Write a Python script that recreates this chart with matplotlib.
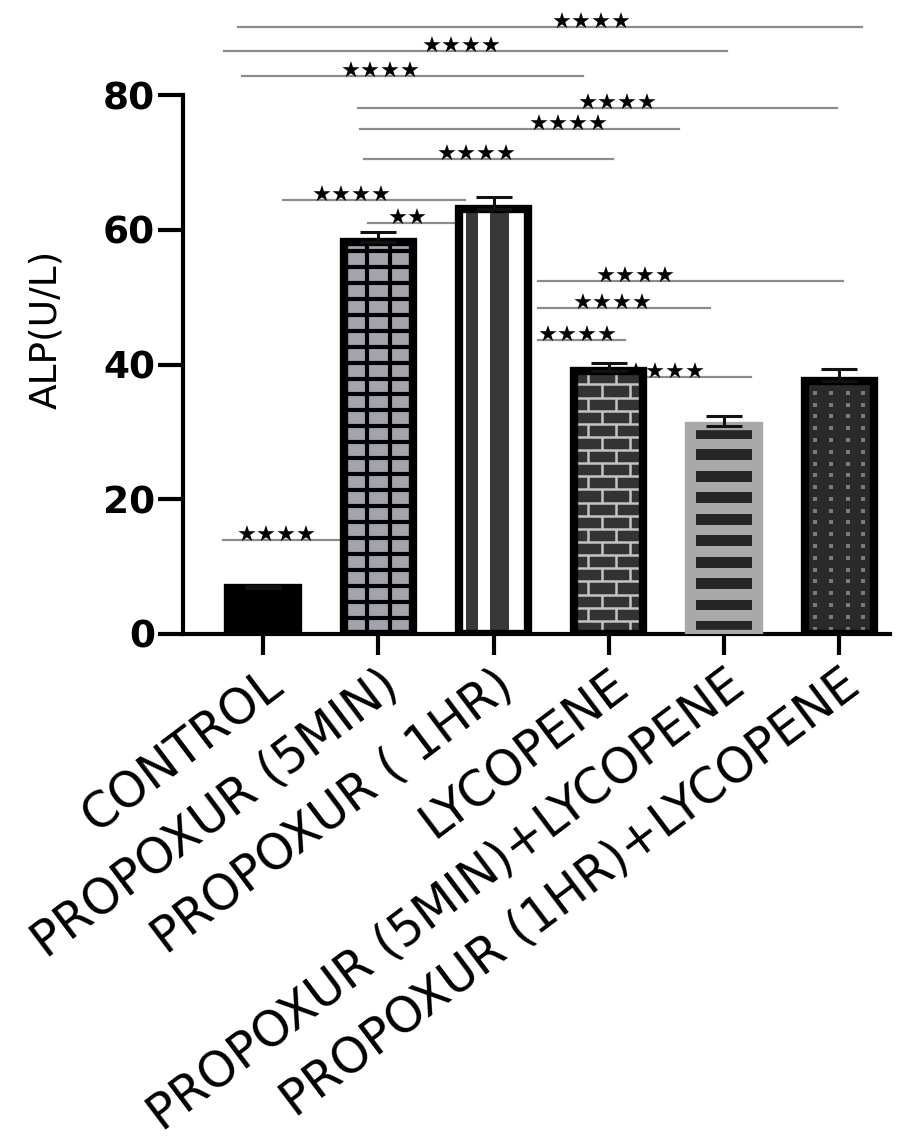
import numpy as np
import matplotlib.pyplot as plt
from matplotlib.patches import Rectangle
from matplotlib.transforms import ScaledTranslation

groups = ["CONTROL", "PROPOXUR (5MIN)", "PROPOXUR ( 1HR)", "LYCOPENE",
          "PROPOXUR (5MIN)+LYCOPENE", "PROPOXUR (1HR)+LYCOPENE"]
alp_mean = [6.9, 58.2, 63.1, 39.0, 30.9, 37.6]
alp_sem = [0.2, 1.4, 1.8, 1.2, 1.5, 1.8]

# significance lines: start / end (group units), height (U/L), stars, label x
sig_start = [-0.22, -0.34, -0.18, 0.82, 0.84, 0.88, 0.17, 0.91, 2.39, 2.39, 2.39, 3.30, -0.35]
sig_end = [5.20, 4.03, 2.78, 4.98, 3.61, 3.04, 1.75, 1.68, 5.03, 3.88, 3.14, 4.23, 0.67]
sig_height = [90.1, 86.5, 82.8, 78.1, 75.0, 70.5, 64.4, 61.0, 52.4, 48.4, 43.6, 38.1, 14.0]
sig_stars = ["****"] * 7 + ["**"] + ["****"] * 5
sig_text_x = [2.85, 1.72, 1.02, 3.08, 2.65, 1.85, 0.77, 1.25, 3.23, 3.03, 2.73, 3.49, 0.12]

face = ["#000000", "#a3a3ad", "#ffffff", "#333333", "#a9a9a9", "#2a2a2a"]
edge = ["#000000", "#000000", "#000000", "#000000", "#a9a9a9", "#000000"]

fig = plt.figure(figsize=(9.13, 11.4), dpi=100)
ax = fig.add_axes([183 / 913, 1 - 634 / 1140, (890 - 183) / 913, (634 - 95) / 1140])

x = np.arange(len(groups))
width = 0.6

bars = ax.bar(x, alp_mean, width, color=face, linewidth=0, zorder=2)

# 5MIN: grey grid
b = bars[1]
x0, w, h = b.get_x(), b.get_width(), b.get_height()
lc = ax.vlines([x0 + w / 3, x0 + 2 * w / 3], 0, h, color="black", lw=3, zorder=3)
lc.set_clip_path(b)
lc = ax.hlines(np.arange(2.37, h, 2.37), x0, x0 + w, color="black", lw=3, zorder=3)
lc.set_clip_path(b)

# 1HR: vertical stripes
b = bars[2]
x0, w, h = b.get_x(), b.get_width(), b.get_height()
for f0, f1 in [(0.1, 0.28), (0.45, 0.72)]:
    ax.add_patch(Rectangle((x0 + f0 * w, 0), (f1 - f0) * w, h, color="#383838", lw=0, zorder=3))

# LYCOPENE: bricks
b = bars[3]
x0, w, h = b.get_x(), b.get_width(), b.get_height()
rows = np.arange(0, h, 1.95)
lc = ax.hlines(rows[1:], x0, x0 + w, color="#c4c4c4", lw=1.8, zorder=3)
lc.set_clip_path(b)
for k, r in enumerate(rows):
    fr = [0.4, 0.8] if k % 2 == 0 else [0.2, 0.6]
    lc = ax.vlines([x0 + f * w for f in fr], r, min(r + 1.95, h), color="#c4c4c4", lw=1.8, zorder=3)
    lc.set_clip_path(b)

# 5MIN+LYCOPENE: dark bands on grey
b = bars[4]
x0, w, h = b.get_x(), b.get_width(), b.get_height()
inset = 0.055
for yb in np.arange(0.3, h - 1.2, 3.19):
    ax.add_patch(Rectangle((x0 + inset, yb), w - 2 * inset, 1.6, color="#262626", lw=0, zorder=3))

# 1HR+LYCOPENE: dark weave
b = bars[5]
x0, w, h = b.get_x(), b.get_width(), b.get_height()
gx, gy = np.meshgrid([0.15, 0.38, 0.62, 0.85], np.arange(0.8, h, 1.75))
sc = ax.scatter(x0 + gx.ravel() * w, gy.ravel(), marker="s", s=7, color="#7a7a7a",
                linewidths=0, zorder=3)
sc.set_clip_path(b)

ax.bar(x, alp_mean, width, fill=False, edgecolor=edge, linewidth=6, zorder=4)

ax.errorbar(x, alp_mean, yerr=[np.zeros(len(x)), alp_sem], fmt="none", ecolor="#111111",
            elinewidth=2.2, capsize=13, capthick=2.2, zorder=5)

for s0, s1, yy, st, tx in zip(sig_start, sig_end, sig_height, sig_stars, sig_text_x):
    ax.plot([s0, s1], [yy, yy], color="#8c8c8c", lw=1.6, clip_on=False, zorder=1)
    ax.text(tx, yy - 0.3, st.replace("*", "\u2605"), ha="center", va="baseline",
            fontsize=16, color="black", clip_on=False, zorder=1)

ax.set_xlim(-0.694, 5.44)
ax.set_ylim(0, 80)
ax.set_yticks([0, 20, 40, 60, 80])
ax.set_yticklabels(["0", "20", "40", "60", "80"], fontsize=27, fontweight="bold")
ax.set_xticks(x)
ax.set_xticklabels(groups, rotation=37, ha="right", va="top", rotation_mode="anchor", fontsize=35)
offset = ScaledTranslation(0.13, -0.04, fig.dpi_scale_trans)
for lbl in ax.get_xticklabels():
    lbl.set_transform(lbl.get_transform() + offset)

ax.tick_params(axis="y", length=18, width=3, pad=2)
ax.tick_params(axis="x", length=15, width=3, pad=4)
for side in ["top", "right"]:
    ax.spines[side].set_visible(False)
for side in ["left", "bottom"]:
    ax.spines[side].set_linewidth(3)

ax.set_ylabel("ALP(U/L)", fontsize=27)
ax.yaxis.set_label_coords(-0.168, 0.566)

fig.savefig("out.png", dpi=100)
